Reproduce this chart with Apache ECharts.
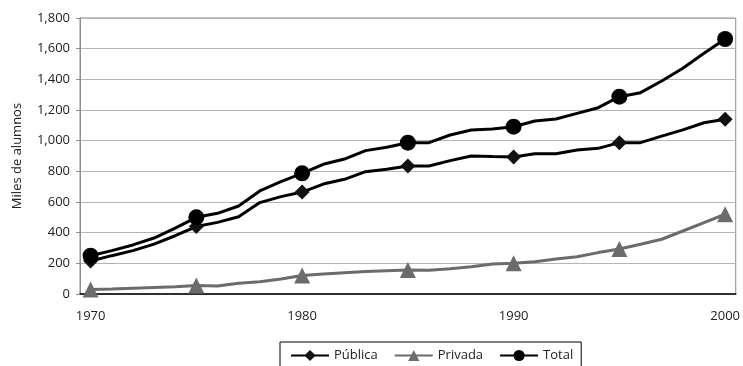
<!DOCTYPE html>
<html>
<head>
<meta charset="utf-8">
<script src="https://cdn.jsdelivr.net/npm/echarts@6/dist/echarts.min.js"></script>
<style>
  html, body { margin: 0; padding: 0; background: #fff; }
  #chart { width: 743px; height: 366px; }
</style>
</head>
<body>
<div id="chart"></div>
<script>
// Matrícula por sostenimiento, 1970-2000 (miles de alumnos)
const years = [];
for (let y = 1970; y <= 2000; y++) years.push(String(y));

const publica = [215, 250, 283, 325, 380, 440, 467, 504, 596, 635, 665,
                 717, 748, 798, 813, 835, 835, 870, 900, 896, 893,
                 915, 915, 939, 950, 987, 987, 1030, 1070, 1117, 1139];
const privada = [30, 33, 38, 43, 48, 55, 52, 70, 80, 98, 120,
                 130, 139, 146, 152, 157, 155, 165, 178, 196, 200,
                 211, 228, 243, 270, 293, 324, 357, 411, 465, 520];
const total = [250, 283, 320, 365, 430, 500, 526, 574, 672, 733, 787,
               846, 880, 935, 957, 987, 987, 1037, 1070, 1076, 1091,
               1128, 1141, 1178, 1215, 1287, 1313, 1389, 1472, 1570, 1663];

// Only every fifth year carries a marker
const markEvery = 5;
function withMarkers(values) {
  return values.map((v, i) => ({
    value: v,
    symbolSize: i % markEvery === 0 ? undefined : 0
  }));
}

const font = '"Open Sans", "Noto Sans", sans-serif';
const chart = echarts.init(document.getElementById('chart'), null, { renderer: 'canvas' });

chart.setOption({
  animation: false,
  textStyle: { fontFamily: font },
  grid: {
    left: 80, right: 6, top: 18, bottom: 72,
    show: true, borderColor: '#8c8c8c', borderWidth: 1
  },
  legend: {
    left: 280, top: 342,
    padding: [7, 8, 8, 10],
    borderColor: '#000', borderWidth: 1,
    itemWidth: 38, itemHeight: 14, itemGap: 16,
    textStyle: { fontFamily: font, fontSize: 13, color: '#222' },
    data: ['Pública', 'Privada', 'Total']
  },
  xAxis: {
    type: 'category',
    data: years,
    boundaryGap: true,
    axisLine: { lineStyle: { color: '#000', width: 1.5 } },
    axisTick: { show: false },
    axisLabel: {
      interval: 0,
      formatter: (v, i) => (i % 10 === 0 ? v : ''),
      color: '#222', fontSize: 13, margin: 16, fontFamily: font
    },
    splitLine: { show: false }
  },
  yAxis: {
    type: 'value',
    min: 0, max: 1800, interval: 200,
    name: 'Miles de alumnos',
    nameLocation: 'middle',
    nameGap: 56,
    nameTextStyle: { color: '#222', fontSize: 13, fontFamily: font },
    axisLine: { show: true, lineStyle: { color: '#8c8c8c', width: 1 } },
    axisTick: { show: true, length: 4, lineStyle: { color: '#8c8c8c' } },
    axisLabel: {
      color: '#222', fontSize: 13, margin: 10, fontFamily: font,
      formatter: v => v.toLocaleString('en-US')
    },
    splitLine: { lineStyle: { color: '#b4b4b4', width: 1 } }
  },
  series: [
    {
      name: 'Pública',
      type: 'line',
      data: withMarkers(publica),
      symbol: 'diamond',
      symbolSize: 15,
      showAllSymbol: true,
      lineStyle: { color: '#000', width: 3 },
      itemStyle: { color: '#111' },
      z: 3
    },
    {
      name: 'Privada',
      type: 'line',
      data: withMarkers(privada),
      symbol: 'triangle',
      symbolSize: 16,
      showAllSymbol: true,
      lineStyle: { color: '#6b6b6b', width: 3 },
      itemStyle: { color: '#6b6b6b' },
      z: 2
    },
    {
      name: 'Total',
      type: 'line',
      data: withMarkers(total),
      symbol: 'circle',
      symbolSize: 16,
      showAllSymbol: true,
      lineStyle: { color: '#000', width: 3 },
      itemStyle: { color: '#000' },
      z: 4
    }
  ]
});
</script>
</body>
</html>
